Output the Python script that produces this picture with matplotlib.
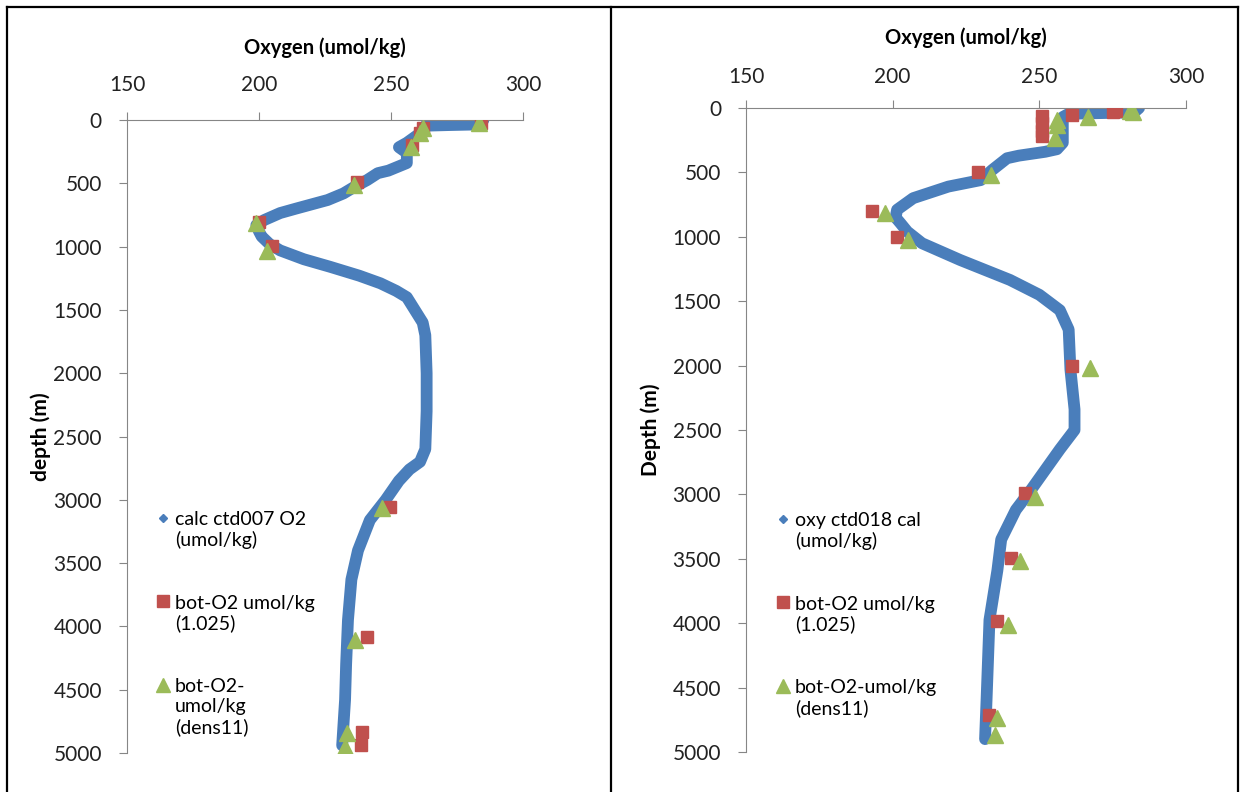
import matplotlib
matplotlib.use("Agg")
import matplotlib.pyplot as plt
from matplotlib.lines import Line2D

plt.rcParams['font.family'] = ['Lato', 'DejaVu Sans']

# ---- left panel data (ctd007) ----
ctd1_depth = [0, 25, 35, 40, 45, 80, 120, 180, 215, 260, 340, 400, 420, 474, 530, 580, 632, 700,
              735, 790, 830, 880, 920, 980, 1030, 1100, 1160, 1230, 1290, 1350, 1400, 1500, 1600,
              1700, 2000, 2300, 2600, 2700, 2760, 2850, 3000, 3160, 3400, 3630, 3950, 4300, 4580, 4940]
ctd1_o2 = [285, 284, 283, 272, 263, 262, 260, 256, 253, 256, 256, 249, 245, 241, 236, 232, 226, 214,
           208, 202, 199, 200, 201, 204, 208, 217, 227, 238, 246, 252, 256, 259, 262,
           263, 263.5, 263.5, 263, 261, 257, 253, 248, 242, 237.5, 235, 233.7, 233, 232.6, 231.5]
bot1_red_depth = [20, 60, 100, 200, 490, 805, 995, 3057, 4084, 4834, 4937]
bot1_red_o2 = [284, 262, 261, 258, 237, 200, 205, 249.6, 240.9, 239, 238.5]
bot1_grn_depth = [25, 65, 105, 210, 510, 815, 1035, 3065, 4107, 4842, 4952]
bot1_grn_o2 = [283.5, 262, 261, 257.5, 236, 199, 203, 246.6, 236.4, 233.3, 232.6]

# ---- right panel data (ctd018) ----
ctd2_depth = [0, 20, 35, 40, 45, 70, 150, 270, 320, 340, 370, 390, 480, 560, 610, 700, 790, 850,
              893, 960, 1050, 1180, 1335, 1450, 1570, 1720, 2030, 2340, 2500, 2650, 2810, 2970,
              3120, 3350, 3590, 3975, 4600, 4900]
ctd2_o2 = [284, 283, 280, 270, 260, 258, 258, 258, 256, 252, 243, 239, 234, 230, 219, 207, 201.5, 201,
           202.6, 205, 210, 223, 240, 250, 257, 260, 260.6, 262, 262, 257, 252, 247,
           242, 237, 235.7, 233, 232, 231.5]
bot2_red_depth = [20, 30, 55, 60, 120, 180, 220, 500, 800, 1000, 2000, 2990, 3490, 3980, 4710]
bot2_red_o2 = [276, 275, 261, 251, 251, 251, 251, 229, 193, 201.5, 261.3, 245, 240.4, 235.7, 233]
bot2_grn_depth = [20, 30, 70, 95, 130, 233, 520, 815, 1025, 2018, 3020, 3517, 4014, 4736, 4868]
bot2_grn_o2 = [281, 282, 266.7, 256, 256, 255.5, 233.6, 197.4, 205.3, 267.4, 248.6, 243.5, 239.4, 235.7, 235]

blue = '#4A7EBB'
red = '#C0504D'
green = '#9BBB59'
axcol = '#868686'

fig = plt.figure(figsize=(12.4, 7.92), dpi=100)

# frame lines round the two panels
for xs, ys in [([7/1240, 7/1240], [0, 1 - 7/792]),
               ([7/1240, 1238/1240], [1 - 7/792, 1 - 7/792]),
               ([611/1240, 611/1240], [0, 1 - 7/792]),
               ([1238/1240, 1238/1240], [0, 1 - 7/792])]:
    fig.add_artist(Line2D(xs, ys, color='black', lw=1.6, transform=fig.transFigure))


def panel(rect, depth, o2, rd, ro, gd, go, ctd_label, grn_label, ylab, leg_anchor, xpad, xlpad, ylpad):
    ax = fig.add_axes(rect)
    ax.plot(o2, depth, color=blue, lw=8.5, solid_capstyle='round', solid_joinstyle='round', zorder=2)
    ax.plot(ro, rd, 's', color=red, ms=9, zorder=3)
    ax.plot(go, gd, '^', color=green, ms=12, zorder=4)
    ax.set_xlim(150, 300)
    ax.set_ylim(5000, 0)
    ax.set_xticks([150, 200, 250, 300])
    ax.set_yticks(range(0, 5001, 500))
    ax.xaxis.tick_top()
    ax.xaxis.set_label_position('top')
    for s in ['right', 'bottom']:
        ax.spines[s].set_visible(False)
    for s in ['top', 'left']:
        ax.spines[s].set_color(axcol)
    ax.tick_params(axis='x', direction='out', length=6, color=axcol, labelsize=15,
                   labelcolor='#222222', pad=xpad)
    ax.tick_params(axis='y', direction='out', length=6, color=axcol, labelsize=15,
                   labelcolor='#222222', pad=12)
    ax.set_xlabel('Oxygen (umol/kg)', fontsize=14.5, fontweight='bold', labelpad=xlpad)
    ax.set_ylabel(ylab, fontsize=15, fontweight='bold', labelpad=ylpad)
    handles = [Line2D([], [], ls='none', marker='D', color=blue, ms=4),
               Line2D([], [], ls='none', marker='s', color=red, ms=9),
               Line2D([], [], ls='none', marker='^', color=green, ms=10)]
    leg = ax.legend(handles, [ctd_label, 'bot-O2 umol/kg\n(1.025)', grn_label],
                    loc='upper left', bbox_to_anchor=leg_anchor, frameon=False, fontsize=14,
                    handlelength=0.6, handletextpad=0.3, labelspacing=2.35, borderaxespad=0)
    # marker next to the first line of each label
    for col in leg._legend_handle_box.get_children():
        for item in col.get_children():
            item.align = 'top'
    return ax


panel([127/1240, 1 - 753/792, 396/1240, 633/792], ctd1_depth, ctd1_o2,
      bot1_red_depth, bot1_red_o2, bot1_grn_depth, bot1_grn_o2,
      'calc ctd007 O2\n(umol/kg)', 'bot-O2-\numol/kg\n(dens11)', 'depth (m)', (0.057, 0.395), 12, 15, 2)

panel([746/1240, 1 - 752/792, 440/1240, 644/792], ctd2_depth, ctd2_o2,
      bot2_red_depth, bot2_red_o2, bot2_grn_depth, bot2_grn_o2,
      'oxy ctd018 cal\n(umol/kg)', 'bot-O2-umol/kg\n(dens11)', 'Depth (m)', (0.054, 0.385), 9, 17, 8)

fig.savefig('out.png', dpi=100)
